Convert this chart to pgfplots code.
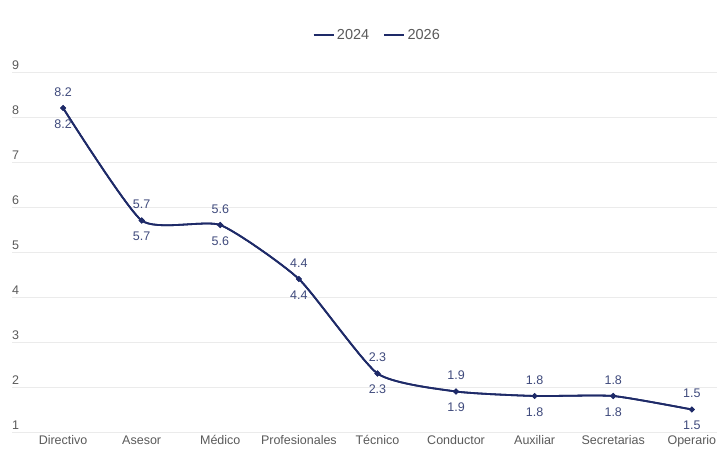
\documentclass[border=0pt]{standalone}
\usepackage{pgfplots}
\usepackage{pgfplotstable}
\pgfplotsset{compat=1.18}
\usepackage{fontspec}
\setmainfont{Liberation Sans}

\definecolor{navy}{HTML}{1E2A68}
\definecolor{lbl}{HTML}{3F4A7C}
\definecolor{ticktext}{HTML}{5A5A5A}
\definecolor{gridc}{HTML}{EBEBEB}

% Average value per job category
\pgfplotstableread{
x val
0 8.2
1 5.7
2 5.6
3 4.4
4 2.3
5 1.9
6 1.8
7 1.8
8 1.5
}\datatwentyfour
\pgfplotstableread{
x val
0 8.2
1 5.7
2 5.6
3 4.4
4 2.3
5 1.9
6 1.8
7 1.8
8 1.5
}\datatwentysix

\pgfplotsset{
  valuelabel/.style={
    nodes near coords={\pgfmathprintnumber[fixed,fixed zerofill,precision=1]{\pgfplotspointmeta}},
    every node near coord/.append style={font=\fontsize{12.5}{14}\selectfont, text=lbl, inner sep=0pt}},
}

\begin{document}
\begin{tikzpicture}
\begin{axis}[
  name=ax,
  scale only axis,
  width=705pt, height=360pt,
  xmin=-0.65, xmax=8.32,
  ymin=1, ymax=9,
  xtick={0,...,8},
  xticklabels={Directivo,Asesor,Médico,Profesionales,Técnico,Conductor,Auxiliar,Secretarias,Operario},
  ytick={1,...,9},
  axis line style={draw=none},
  major tick length=0pt,
  ymajorgrids,
  grid style={gridc, line width=0.8pt},
  tick label style={font=\fontsize{12.5}{14}\selectfont, text=ticktext},
  /pgf/number format/assume math mode=true,
  yticklabel style={anchor=south west, inner sep=0pt, yshift=2pt},
  legend style={at={(0.518,1.103)}, anchor=center, draw=none, fill=none,
    legend columns=2, font=\fontsize{14.5}{16}\selectfont, text=ticktext,
    /tikz/every even column/.append style={column sep=12pt}},
  legend image code/.code={\draw[line width=2.4pt] (0pt,0pt) -- (20pt,0pt);},
  clip=false,
]
\coordinate (bl) at (rel axis cs:0,0);

\addplot[navy, line width=1.8pt, smooth, tension=0.33,
  mark=*, mark size=1.8pt, valuelabel,
  every node near coord/.append style={anchor=south, yshift=10.5pt}]
  table[x=x, y=val] {\datatwentyfour};
\addlegendentry{2024}

\addplot[navy, line width=1.8pt, smooth, tension=0.33,
  mark=*, mark size=1.8pt, valuelabel,
  every node near coord/.append style={anchor=north, yshift=-10.5pt}]
  table[x=x, y=val] {\datatwentysix};
\addlegendentry{2026}
\end{axis}
\pgfresetboundingbox
\path ([shift={(-12pt,-18pt)}]bl) rectangle ([shift={(705pt,432pt)}]bl);
\end{tikzpicture}
\end{document}
